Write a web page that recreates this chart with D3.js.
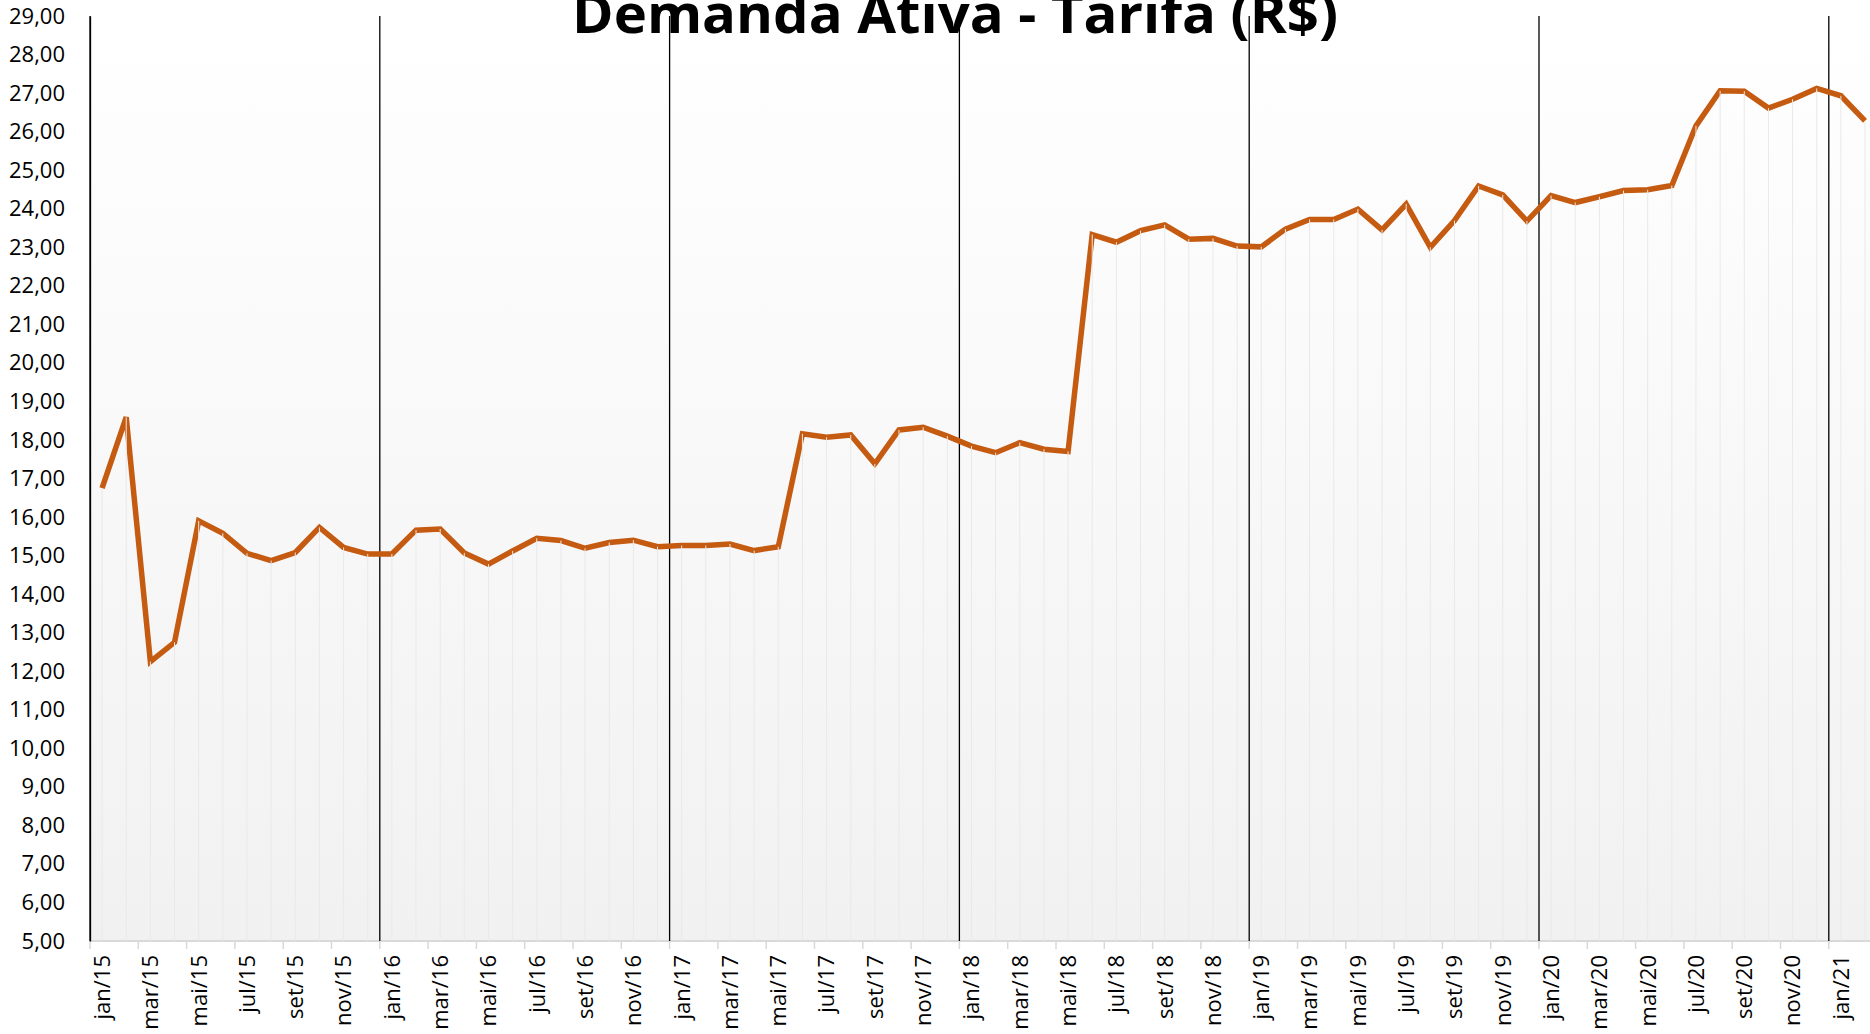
<!DOCTYPE html>
<html>
<head>
<meta charset="utf-8">
<script src="https://cdn.jsdelivr.net/npm/d3@7"></script>
<style>
  body { margin: 0; background: #fff; }
  svg { display: block; font-family: "Open Sans", sans-serif; }
</style>
</head>
<body>
<svg id="chart" width="1870" height="1034"></svg>
<script>
// month names (pt-BR) and years used to build the categories
const monthNames = ["jan", "fev", "mar", "abr", "mai", "jun", "jul", "ago", "set", "out", "nov", "dez"];
const years = ["15", "16", "17", "18", "19", "20", "21"];

// tarifa (R$) per month, jan/15 .. fev/21
const values2015 = [16.75, 18.59, 12.25, 12.75, 15.90, 15.58, 15.06, 14.87, 15.08, 15.73, 15.21, 15.04];
const values2016 = [15.04, 15.66, 15.69, 15.07, 14.78, 15.12, 15.45, 15.39, 15.19, 15.34, 15.40, 15.23];
const values2017 = [15.26, 15.26, 15.30, 15.13, 15.23, 18.16, 18.07, 18.13, 17.38, 18.26, 18.33, 18.10];
const values2018 = [17.84, 17.67, 17.93, 17.76, 17.70, 23.33, 23.13, 23.43, 23.58, 23.21, 23.23, 23.03];
const values2019 = [23.01, 23.47, 23.72, 23.72, 23.99, 23.45, 24.12, 23.00, 23.69, 24.59, 24.36, 23.68];
const values2020 = [24.34, 24.16, 24.31, 24.47, 24.49, 24.60, 26.15, 27.06, 27.05, 26.61, 26.84, 27.12];
const values2021 = [26.93, 26.28];

const yTicks = d3.range(5, 30, 1);
const chartTitle = "Demanda Ativa - Tarifa (R$)";

const values = [].concat(values2015, values2016, values2017, values2018, values2019, values2020, values2021);
const categories = [];
years.forEach((yy) => monthNames.forEach((m) => categories.push(m + "/" + yy)));
const data = values.map((v, i) => ({ cat: categories[i], value: v, idx: i }));

const svg = d3.select("#chart");
const plotLeft = 90;
const plotTop = 16;
const plotBottom = 941;
const step = 24.15;

// band scale runs past the right edge, the chart is cut there like the original
const x = d3.scaleBand()
  .domain(categories.slice(0, data.length))
  .range([plotLeft, plotLeft + data.length * step])
  .padding(0);
const y = d3.scaleLinear().domain([5, 29]).range([plotBottom, plotTop]);

// plot area gradient
const grad = svg.append("defs").append("linearGradient")
  .attr("id", "bg")
  .attr("x1", 0).attr("y1", 0).attr("x2", 0).attr("y2", 1);
grad.append("stop").attr("offset", "0%").attr("stop-color", "#ffffff");
grad.append("stop").attr("offset", "100%").attr("stop-color", "#f1f1f1");

svg.append("rect")
  .attr("x", plotLeft)
  .attr("y", plotTop)
  .attr("width", 1870 - plotLeft)
  .attr("height", plotBottom - plotTop)
  .attr("fill", "url(#bg)");

// bottom axis line + ticks every 2 months
svg.append("line")
  .attr("x1", plotLeft).attr("x2", 1870)
  .attr("y1", plotBottom).attr("y2", plotBottom)
  .attr("stroke", "#d9d9d9")
  .attr("stroke-width", 2);

const tickCats = data.filter((d) => d.idx % 2 == 0);
svg.append("g").selectAll("line")
  .data(tickCats)
  .enter()
  .append("line")
  .attr("x1", (d) => x(d.cat)).attr("x2", (d) => x(d.cat))
  .attr("y1", plotBottom).attr("y2", plotBottom + 8)
  .attr("stroke", "#d9d9d9")
  .attr("stroke-width", 1.5);

svg.append("g").selectAll("text")
  .data(tickCats)
  .enter()
  .append("text")
  .attr("transform", (d) => "translate(" + (x(d.cat) + x.bandwidth() / 2) + "," + (plotBottom + 14) + ") rotate(-90)")
  .attr("dy", "0.36em")
  .attr("text-anchor", "end")
  .attr("font-size", "22px")
  .attr("fill", "#000")
  .text((d) => d.cat);

// black year separators
const janCats = data.filter((d) => d.idx % 12 == 0);
svg.append("g").selectAll("line")
  .data(janCats)
  .enter()
  .append("line")
  .attr("x1", (d) => x(d.cat)).attr("x2", (d) => x(d.cat))
  .attr("y1", plotTop).attr("y2", plotBottom)
  .attr("stroke", "#000")
  .attr("stroke-width", 1.3);

// y axis
const yAxis = svg.append("g")
  .attr("transform", "translate(" + plotLeft + ",0)")
  .call(d3.axisLeft(y)
    .tickValues(yTicks)
    .tickSize(0)
    .tickPadding(25)
    .tickFormat((d) => d3.format(".2f")(d).replace(".", ",")));
yAxis.select(".domain").attr("stroke", "#000").attr("stroke-width", 1.3);
yAxis.selectAll("text")
  .attr("font-size", "22px")
  .attr("font-family", "Open Sans")
  .attr("fill", "#000");

// the series line
const line = d3.line()
  .x((d) => x(d.cat) + x.bandwidth() / 2)
  .y((d) => y(d.value));

svg.append("path")
  .datum(data)
  .attr("d", line)
  .attr("fill", "none")
  .attr("stroke", "#c55a11")
  .attr("stroke-width", 5.5)
  .attr("stroke-linejoin", "miter")
  .attr("stroke-miterlimit", 3);

// drop lines from every point down to the axis
svg.append("g").selectAll("line")
  .data(data)
  .enter()
  .append("line")
  .attr("x1", (d) => x(d.cat) + x.bandwidth() / 2)
  .attr("x2", (d) => x(d.cat) + x.bandwidth() / 2)
  .attr("y1", (d) => y(d.value))
  .attr("y2", plotBottom)
  .attr("stroke", "#e9e9e9")
  .attr("stroke-width", 1);

// title, cut at the top edge like the original
svg.append("text")
  .attr("x", 955)
  .attr("y", 33)
  .attr("text-anchor", "middle")
  .attr("font-size", "54px")
  .attr("font-weight", "bold")
  .attr("textLength", 766)
  .attr("lengthAdjust", "spacingAndGlyphs")
  .attr("fill", "#000")
  .text(chartTitle);
</script>
</body>
</html>
